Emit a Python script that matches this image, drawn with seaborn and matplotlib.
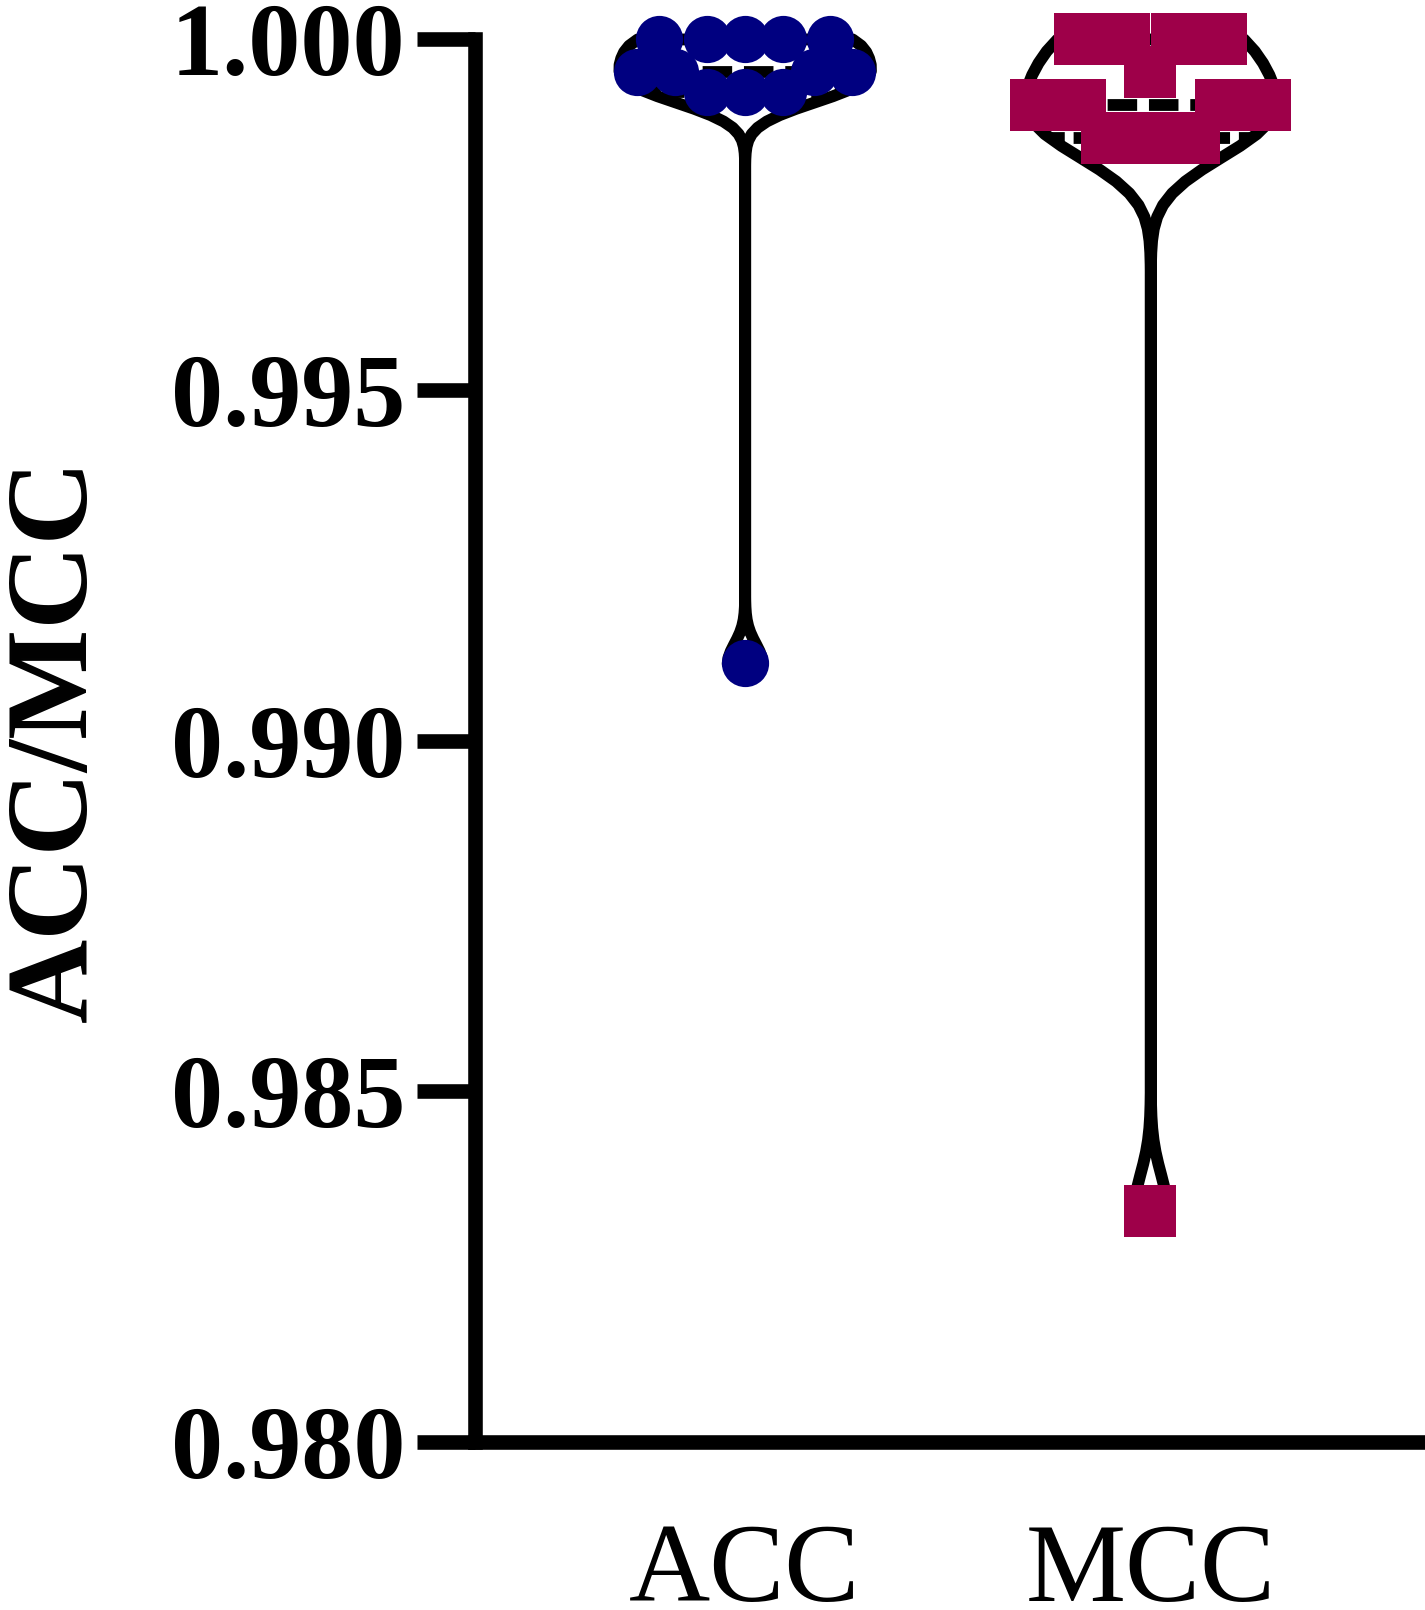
import pandas as pd
import numpy as np
import matplotlib
matplotlib.use('Agg')
import matplotlib.pyplot as plt
import seaborn as sns

# ── Data ──────────────────────────────────────────────────────
metrics = ['ACC', 'MCC']
acc_values = [1.0, 1.0, 1.0, 1.0, 1.0,
              0.99953, 0.99953, 0.99953, 0.99953,
              0.99925, 0.99925, 0.99925,
              0.9911]
mcc_values = [1.0, 1.0, 1.0, 1.0,
              0.99953,
              0.99906, 0.99906, 0.99906, 0.99906,
              0.99859, 0.99859, 0.99859,
              0.9833]
y_ticks = [0.980, 0.985, 0.990, 0.995, 1.000]
palette = {'ACC': '#000080', 'MCC': '#9E0049'}
markers = {'ACC': 'o', 'MCC': 's'}
layout_size = {'ACC': 26, 'MCC': 30}   # marker size used to lay out the swarm
final_size = {'ACC': 34, 'MCC': 37}    # marker size actually drawn

df = pd.DataFrame({
    'metric': ['ACC'] * len(acc_values) + ['MCC'] * len(mcc_values),
    'value': acc_values + mcc_values,
})

# ── Style ─────────────────────────────────────────────────────
sns.set_style('ticks')
plt.rcParams['font.family'] = ['Liberation Serif', 'DejaVu Serif']
for key in ['text.color', 'axes.edgecolor', 'axes.labelcolor', 'xtick.color', 'ytick.color']:
    plt.rcParams[key] = 'black'

fig = plt.figure(figsize=(14.25, 16.1), dpi=100)
ax = fig.add_axes([0.3333, 0.1043, 0.6632, 0.8715])

sns.violinplot(data=df, x='metric', y='value', order=metrics, cut=0,
               inner='quart', color='white', linecolor='black', linewidth=8.5,
               bw_adjust=0.2, width=0.62, density_norm='width', ax=ax)

# swarm laid out with smaller markers first
swarm_colls = {}
for m in metrics:
    before = len(ax.collections)
    sns.swarmplot(data=df[df['metric'] == m], x='metric', y='value', order=metrics,
                  color=palette[m], marker=markers[m], size=layout_size[m], linewidth=0,
                  warn_thresh=1.0, ax=ax)
    swarm_colls[m] = ax.collections[before:]

ax.set_xlim(-0.665, 1.665)
ax.set_ylim(0.980, 1.000)

# freeze the swarm positions, then enlarge the markers so they overlap like the original
fig.canvas.draw()
for m, colls in swarm_colls.items():
    for coll in colls:
        coll.__dict__.pop('draw', None)
        coll.set_sizes([final_size[m] ** 2])
for coll in ax.collections:
    coll.set_clip_on(False)

ax.set_yticks(y_ticks)
ax.set_yticklabels([f'{t:.3f}' for t in y_ticks], fontsize=75, fontweight='bold')
ax.set_xticks(range(len(metrics)))
ax.set_xticklabels(metrics, fontsize=81)

ax.tick_params(axis='y', length=42, width=10.5, pad=8)
ax.tick_params(axis='x', length=0, pad=58)

for side in ['top', 'right']:
    ax.spines[side].set_visible(False)
for side in ['left', 'bottom']:
    ax.spines[side].set_linewidth(10.5)

ax.set_xlabel('')
ax.set_ylabel('ACC/MCC', fontsize=84, fontweight='bold')
ax.yaxis.set_label_coords(-0.385, 0.5)

fig.savefig('out.png', dpi=100)
